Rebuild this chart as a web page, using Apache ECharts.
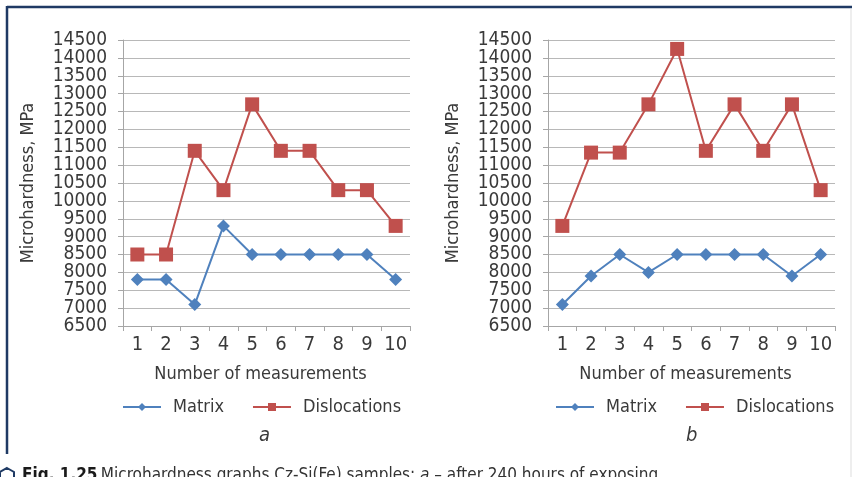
<!DOCTYPE html>
<html>
<head>
<meta charset="utf-8">
<script src="https://cdn.jsdelivr.net/npm/echarts@6/dist/echarts.min.js"></script>
<style>
html,body{margin:0;padding:0;background:#fff;}
#chart{width:852px;height:477px;}
</style>
</head>
<body>
<div id="chart"></div>
<script>
var categories = ['1','2','3','4','5','6','7','8','9','10'];
var matrixA = [7800, 7800, 7100, 9300, 8500, 8500, 8500, 8500, 8500, 7800];
var dislocA = [8500, 8500, 11400, 10300, 12700, 11400, 11400, 10300, 10300, 9300];
var matrixB = [7100, 7900, 8500, 8000, 8500, 8500, 8500, 8500, 7900, 8500];
var dislocB = [9300, 11350, 11350, 12700, 14250, 11400, 12700, 11400, 12700, 10300];
var seriesNames = ['Matrix', 'Dislocations'];
var panelLabels = ['a', 'b'];
var yMin = 6500, yMax = 14500, yStep = 500;
var xName = 'Number of measurements';
var yName = 'Microhardness, MPa';

var FONT = "'DejaVu Sans Condensed', 'Liberation Sans Narrow', sans-serif";
var TXT = '#3a3a3a';
var BLUE = '#4F81BD', RED = '#C0504D';
var GRID = '#b8b8b8', AX = '#a6a6a6';

function xAxisCfg(i) {
  return {
    type: 'category', gridIndex: i, data: categories, boundaryGap: true,
    axisLine: {show: true, lineStyle: {color: AX, width: 1}},
    axisTick: {show: true, length: 5, lineStyle: {color: AX}},
    axisLabel: {fontFamily: FONT, fontSize: 20, color: TXT, margin: 9, interval: 0},
    name: xName, nameLocation: 'middle', nameGap: 39,
    nameTextStyle: {fontFamily: FONT, fontSize: 18, color: TXT, padding: [0, 12, 0, 0]},
    splitLine: {show: false}
  };
}
// main y axis: even labels (6500, 7500, ...), with line, ticks, grid and name
function yAxisCfg(i) {
  return {
    type: 'value', gridIndex: i, position: 'left', min: yMin, max: yMax, interval: yStep,
    axisLine: {show: true, lineStyle: {color: AX, width: 1}},
    axisTick: {show: true, length: 5, lineStyle: {color: AX}},
    axisLabel: {fontFamily: FONT, fontSize: 19, color: TXT, margin: 16,
      showMinLabel: true, showMaxLabel: true, hideOverlap: false,
      formatter: function (v) { return ((v - yMin) % (2 * yStep) === 0) ? String(v) : ''; }},
    splitLine: {show: true, lineStyle: {color: GRID, width: 1}},
    name: yName, nameLocation: 'middle', nameGap: 86,
    nameTextStyle: {fontFamily: FONT, fontSize: 18, color: TXT}
  };
}
// companion y axis on the same scale: the in-between labels (7000, 8000, ...)
function yAxisCfg2(i) {
  return {
    type: 'value', gridIndex: i, position: 'left', offset: 0, min: yMin, max: yMax, interval: yStep,
    axisLine: {show: false}, axisTick: {show: false}, splitLine: {show: false},
    axisLabel: {fontFamily: FONT, fontSize: 19, color: TXT, margin: 16,
      showMinLabel: false, showMaxLabel: false, hideOverlap: false,
      formatter: function (v) { return ((v - yMin) % (2 * yStep) !== 0) ? String(v) : ''; }}
  };
}
function lineSeries(name, data, i, sym, size, color) {
  return {
    name: name, type: 'line', xAxisIndex: i, yAxisIndex: i, data: data,
    symbol: sym, symbolSize: size, showSymbol: true,
    lineStyle: {color: color, width: 2},
    itemStyle: {color: color},
    emphasis: {disabled: true}
  };
}
function legendCfg(left) {
  return {
    left: left, top: 398, width: 420, padding: 0, orient: 'horizontal',
    data: seriesNames, itemWidth: 38, itemHeight: 10, itemGap: 28,
    textStyle: {fontFamily: FONT, fontSize: 18, color: TXT, padding: [0, 0, 0, 7]},
    selectedMode: false
  };
}

var chart = echarts.init(document.getElementById('chart'), null, {renderer: 'canvas'});
chart.setOption({
  animation: false,
  backgroundColor: '#ffffff',
  grid: [
    {left: 123, right: 442, top: 40, bottom: 151, containLabel: false},
    {left: 548, right: 17, top: 40, bottom: 151, containLabel: false}
  ],
  xAxis: [xAxisCfg(0), xAxisCfg(1)],
  yAxis: [yAxisCfg(0), yAxisCfg(1), yAxisCfg2(0), yAxisCfg2(1)],
  legend: [legendCfg(122), legendCfg(555)],
  series: [
    lineSeries(seriesNames[0], matrixA, 0, 'diamond', 13, BLUE),
    lineSeries(seriesNames[1], dislocA, 0, 'rect', 14, RED),
    lineSeries(seriesNames[0], matrixB, 1, 'diamond', 13, BLUE),
    lineSeries(seriesNames[1], dislocB, 1, 'rect', 14, RED)
  ],
  graphic: [
    {type: 'line', shape: {x1: 7, y1: 7, x2: 852, y2: 7}, style: {stroke: '#1f3a64', lineWidth: 2.5}, silent: true},
    {type: 'line', shape: {x1: 7, y1: 6, x2: 7, y2: 454}, style: {stroke: '#1f3a64', lineWidth: 2.5}, silent: true},
    {type: 'line', shape: {x1: 851, y1: 9, x2: 851, y2: 477}, style: {stroke: '#dddddd', lineWidth: 1}, silent: true},
    {type: 'text', left: 259, top: 426, style: {text: panelLabels[0], font: 'italic 20px ' + FONT, fill: TXT}},
    {type: 'text', left: 686, top: 426, style: {text: panelLabels[1], font: 'italic 20px ' + FONT, fill: TXT}},
    {type: 'polygon', shape: {points: [[7, 468], [14, 472], [14, 481], [7, 485], [0, 481], [0, 472]]},
     style: {fill: 'none', stroke: '#1f3a64', lineWidth: 2}, silent: true},
    {type: 'text', left: 22, top: 467,
     style: {
       text: '{b|Fig. 1.25} {n|Microhardness graphs Cz-Si(Fe) samples: }{i|a}{n| – after 240 hours of exposing}',
       rich: {
         b: {font: 'bold 17px ' + FONT, fill: '#1a1a1a'},
         n: {font: '17px ' + FONT, fill: '#333'},
         i: {font: 'italic 17px ' + FONT, fill: '#333'}
       }
     }}
  ]
});
</script>
</body>
</html>
